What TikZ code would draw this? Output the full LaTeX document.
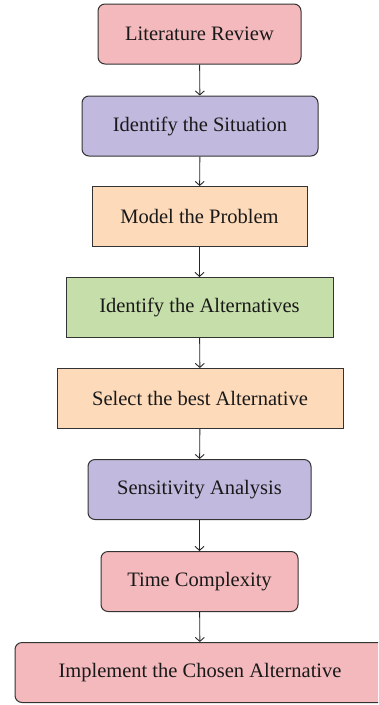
\documentclass[tikz,border=0pt]{standalone}
\usepackage{fontspec}
\setmainfont{Liberation Serif}
\usetikzlibrary{shapes,arrows,arrows.meta,positioning,calc}
\definecolor{stepred}{RGB}{244,185,188}
\definecolor{stepviolet}{RGB}{193,186,222}
\definecolor{steporange}{RGB}{253,218,186}
\definecolor{stepgreen}{RGB}{198,222,170}

\tikzset{
    stage/.style={draw=black!80, line width=1pt, minimum height=60pt,
        inner sep=0pt, font=\fontsize{20.5}{23}\selectfont, text=black!90},
    roundstage/.style={stage, rounded corners=7pt},
    flow/.style={-{Straight Barb[length=4pt,width=9pt]}, black!85, line width=0.9pt}
}

\begin{document}
\begin{tikzpicture}[x=1pt,y=1pt]
    \useasboundingbox (0,0) rectangle (378,-705);
    \clip (0,0) rectangle (378,-705);
    % stages of the method
    \node[roundstage, fill=stepred, minimum width=203pt] (lit) at (199.5,-34) {Literature Review};
    \node[roundstage, fill=stepviolet, minimum width=236pt] (sit) at (200,-126) {Identify the Situation};
    \node[stage, fill=steporange, minimum width=215pt] (model) at (199.5,-216.5) {Model the Problem};
    \node[stage, fill=stepgreen, minimum width=267pt] (alt) at (199.5,-307.5) {Identify the Alternatives};
    \node[stage, fill=steporange, minimum width=286pt] (best) at (200,-398.5) {Select the best Alternative};
    \node[roundstage, fill=stepviolet, minimum width=223pt] (sens) at (199.5,-489.5) {Sensitivity Analysis};
    \node[roundstage, fill=stepred, minimum width=197pt] (time) at (199.5,-581.5) {Time Complexity};
    \node[roundstage, fill=stepred, minimum width=370pt] (impl) at (200,-672.5) {Implement the Chosen Alternative};
    % arrows
    \draw[flow] (lit) -- (sit);
    \draw[flow] (sit) -- (model);
    \draw[flow] (model) -- (alt);
    \draw[flow] (alt) -- (best);
    \draw[flow] (best) -- (sens);
    \draw[flow] (sens) -- (time);
    \draw[flow] (time) -- (impl);
\end{tikzpicture}
\end{document}
